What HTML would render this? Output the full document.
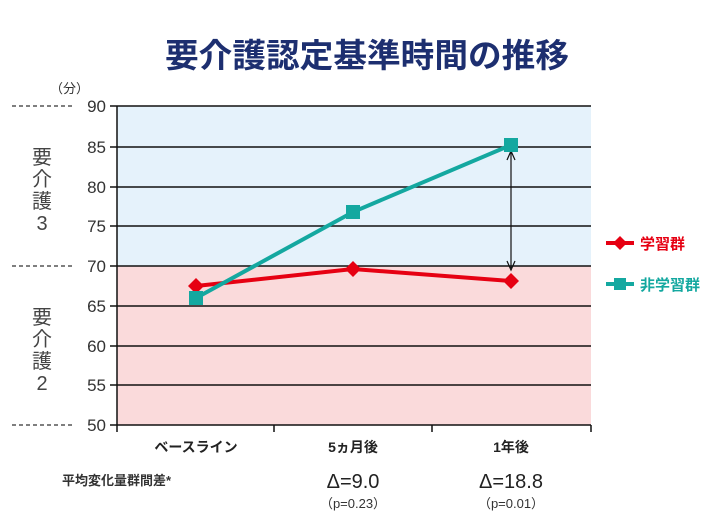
<!DOCTYPE html>
<html><head><meta charset="utf-8"><style>
body{margin:0;background:#fff;width:720px;height:521px;overflow:hidden}
svg text{font-family:"Liberation Sans","Noto Sans CJK JP",sans-serif}
</style></head><body>
<svg width="720" height="521" viewBox="0 0 720 521">
<text x="367" y="67" text-anchor="middle" font-size="33" font-weight="bold" fill="#1d2f70" textLength="404" lengthAdjust="spacingAndGlyphs">要介護認定基準時間の推移</text>
<rect x="117" y="106" width="474" height="160" fill="#e5f2fb"/>
<rect x="117" y="266" width="474" height="159" fill="#fadadb"/>
<g stroke="#111" stroke-width="1.5">
<line x1="110" y1="106" x2="591" y2="106"/>
<line x1="110" y1="147" x2="591" y2="147"/>
<line x1="110" y1="187" x2="591" y2="187"/>
<line x1="110" y1="226" x2="591" y2="226"/>
<line x1="110" y1="266" x2="591" y2="266"/>
<line x1="110" y1="306" x2="591" y2="306"/>
<line x1="110" y1="346" x2="591" y2="346"/>
<line x1="110" y1="385" x2="591" y2="385"/>
<line x1="110" y1="425" x2="591" y2="425"/>
<line x1="117" y1="106" x2="117" y2="432"/>
<line x1="274" y1="425" x2="274" y2="432"/>
<line x1="432" y1="425" x2="432" y2="432"/>
<line x1="591" y1="425" x2="591" y2="432"/>
</g>
<g stroke="#333" stroke-width="1.2" stroke-dasharray="4,3">
<line x1="12" y1="106" x2="72" y2="106"/>
<line x1="12" y1="266" x2="72" y2="266"/>
<line x1="12" y1="425" x2="72" y2="425"/>
</g>
<g font-size="17" fill="#333" text-anchor="end">
<text x="106" y="112">90</text><text x="106" y="153">85</text><text x="106" y="193">80</text>
<text x="106" y="232">75</text><text x="106" y="272">70</text><text x="106" y="312">65</text>
<text x="106" y="352">60</text><text x="106" y="391">55</text><text x="106" y="431">50</text>
</g>
<text x="50" y="93" font-size="13" fill="#333">（分）</text>
<g font-size="20" fill="#444" text-anchor="middle">
<text x="42" y="164">要</text><text x="42" y="186">介</text><text x="42" y="208">護</text><text x="42" y="230">3</text>
<text x="42" y="324">要</text><text x="42" y="346">介</text><text x="42" y="368">護</text><text x="42" y="390">2</text>
</g>
<g font-size="14" font-weight="bold" fill="#222" text-anchor="middle">
<text x="196" y="452">ベースライン</text><text x="353" y="452">5ヵ月後</text><text x="511" y="452">1年後</text>
</g>
<text x="62" y="485" font-size="13" font-weight="bold" fill="#333">平均変化量群間差*</text>
<text x="353" y="488" font-size="20" fill="#222" text-anchor="middle">Δ=9.0</text>
<text x="511" y="488" font-size="20" fill="#222" text-anchor="middle">Δ=18.8</text>
<text x="353" y="508" font-size="13" fill="#333" text-anchor="middle">（p=0.23）</text>
<text x="511" y="508" font-size="13" fill="#333" text-anchor="middle">（p=0.01）</text>
<line x1="511" y1="152" x2="511" y2="268" stroke="#111" stroke-width="1.2"/>
<path d="M507,160 L511,151 L515,160" fill="none" stroke="#111" stroke-width="1.2"/>
<path d="M507,261 L511,270 L515,261" fill="none" stroke="#111" stroke-width="1.2"/>
<polyline points="196,286 353,269 511,281" fill="none" stroke="#e60012" stroke-width="4"/>
<g fill="#e60012">
<polygon points="196,278 204,286 196,294 188,286"/>
<polygon points="353,261 361,269 353,277 345,269"/>
<polygon points="511,273 519,281 511,289 503,281"/>
</g>
<polyline points="196,298 353,212 511,145" fill="none" stroke="#14a8a0" stroke-width="4"/>
<g fill="#14a8a0">
<rect x="189" y="291" width="14" height="14"/><rect x="346" y="205" width="14" height="14"/><rect x="504" y="138" width="14" height="14"/>
</g>
<line x1="606" y1="243" x2="634" y2="243" stroke="#e60012" stroke-width="4"/>
<polygon points="620,236 627,243 620,250 613,243" fill="#e60012"/>
<text x="640" y="249" font-size="15" font-weight="bold" fill="#e60012">学習群</text>
<line x1="606" y1="284" x2="634" y2="284" stroke="#14a8a0" stroke-width="4"/>
<rect x="614" y="278" width="12" height="12" fill="#14a8a0"/>
<text x="640" y="290" font-size="15" font-weight="bold" fill="#14a8a0">非学習群</text>
</svg>
</body></html>
